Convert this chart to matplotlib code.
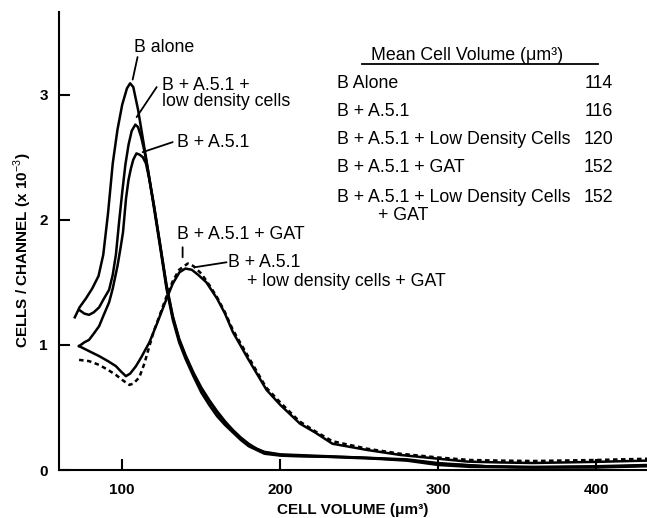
import matplotlib
matplotlib.use("Agg")
import matplotlib.pyplot as plt
from matplotlib.lines import Line2D

plt.rcParams['font.family'] = ['Liberation Sans', 'DejaVu Sans']
plt.rcParams['mathtext.fontset'] = 'custom'
plt.rcParams['mathtext.rm'] = 'Liberation Sans'
plt.rcParams['mathtext.bf'] = 'Liberation Sans:bold'

# cell volume (um^3) vs cells / channel (x 10^-3)
b_alone_x = [70, 73, 77, 81, 85, 88, 91, 94, 97, 100, 103, 105, 107, 110, 115, 120, 124,
             128, 132, 136, 140, 145, 150, 155, 160, 165, 170, 175, 180, 185, 190, 200,
             210, 230, 260, 280, 300, 320, 350, 400, 432]
b_alone_y = [1.22, 1.30, 1.37, 1.45, 1.55, 1.72, 2.05, 2.45, 2.72, 2.92, 3.05, 3.09, 3.06,
             2.88, 2.50, 2.10, 1.78, 1.45, 1.20, 1.02, 0.89, 0.75, 0.62, 0.52, 0.43, 0.36,
             0.30, 0.24, 0.19, 0.16, 0.13, 0.115, 0.11, 0.105, 0.09, 0.075, 0.04, 0.025,
             0.02, 0.02, 0.03]

ld_x = [72.7, 76, 79, 82, 85.4, 88, 91.7, 94, 96, 98, 100, 102, 104, 106, 108.3, 110, 112,
        114, 116, 120, 124, 128, 132, 136, 140, 145, 150, 155, 160, 165, 170, 175, 180, 185,
        190, 200, 220, 250, 280, 300, 330, 360, 400, 432]
ld_y = [1.28, 1.25, 1.24, 1.26, 1.30, 1.36, 1.44, 1.56, 1.72, 1.98, 2.22, 2.44, 2.60, 2.71,
        2.76, 2.74, 2.66, 2.55, 2.42, 2.12, 1.80, 1.47, 1.22, 1.04, 0.91, 0.77, 0.65, 0.55,
        0.46, 0.38, 0.31, 0.25, 0.20, 0.17, 0.14, 0.12, 0.11, 0.10, 0.08, 0.05, 0.03, 0.02,
        0.025, 0.035]

a51_x = [72.7, 76, 79, 82, 85.4, 88, 91.7, 94, 97, 99, 100.5, 102.4, 104, 105.5, 107, 109,
         111, 113, 115, 117, 120, 124, 128, 132, 136, 140, 145, 150, 155, 160, 165, 170, 175,
         180, 185, 190, 200, 220, 250, 280, 300, 330, 360, 400, 432]
a51_y = [0.99, 1.02, 1.04, 1.09, 1.15, 1.23, 1.34, 1.45, 1.63, 1.78, 1.90, 2.17, 2.32, 2.41,
         2.48, 2.53, 2.52, 2.50, 2.45, 2.33, 2.12, 1.80, 1.48, 1.23, 1.05, 0.92, 0.78, 0.66,
         0.56, 0.47, 0.39, 0.32, 0.26, 0.21, 0.17, 0.145, 0.125, 0.115, 0.10, 0.085, 0.055,
         0.03, 0.025, 0.03, 0.04]

gat_x = [72.7, 79, 85.4, 91, 96, 99, 102.3, 105, 108.7, 112, 117.2, 122, 127.8, 132, 136.2,
         140, 144, 148, 153.2, 160, 165, 170.1, 180, 191.3, 200, 212.5, 222, 233, 255, 276,
         300, 318.5, 340, 360, 400, 432]
gat_y = [0.99, 0.95, 0.91, 0.87, 0.83, 0.79, 0.75, 0.77, 0.83, 0.90, 1.02, 1.17, 1.36, 1.49,
         1.58, 1.61, 1.60, 1.56, 1.50, 1.37, 1.25, 1.10, 0.88, 0.64, 0.52, 0.37, 0.30, 0.21,
         0.16, 0.12, 0.09, 0.067, 0.06, 0.056, 0.065, 0.075]

gat_ld_x = [72.7, 79, 85.4, 91, 96, 100, 104.5, 107, 110.8, 114, 117.2, 120, 123.5, 127.8,
            132, 136, 141.5, 145, 150, 155, 160, 165, 170, 180, 191, 200, 212, 222, 233, 255,
            276, 300, 320, 340, 360, 400, 432]
gat_ld_y = [0.88, 0.87, 0.84, 0.80, 0.76, 0.72, 0.68, 0.69, 0.74, 0.85, 0.99, 1.11, 1.23,
            1.38, 1.51, 1.60, 1.65, 1.63, 1.57, 1.48, 1.38, 1.26, 1.12, 0.90, 0.66, 0.54, 0.39,
            0.31, 0.23, 0.17, 0.13, 0.10, 0.08, 0.075, 0.072, 0.08, 0.09]

x_ticks = [100, 200, 300, 400]
y_ticks = [0, 1, 2, 3]

table_title = "Mean Cell Volume (\u03bcm\u00b3)"
table_labels = ["B Alone", "B + A.5.1", "B + A.5.1 + Low Density Cells", "B + A.5.1 + GAT",
                "B + A.5.1 + Low Density Cells"]
table_values = ["114", "116", "120", "152", "152"]

W, H = 647, 518
fig = plt.figure(figsize=(W / 100, H / 100), dpi=100)
ax = fig.add_axes([59 / W, 1 - 470 / H, 588 / W, 458 / H])

lw = 1.8
for xs, ys in [(b_alone_x, b_alone_y), (ld_x, ld_y), (a51_x, a51_y), (gat_x, gat_y)]:
    ax.plot(xs, ys, color='black', lw=lw, solid_joinstyle='round')
ax.plot(gat_ld_x, gat_ld_y, color='black', lw=lw, ls=(0, (1.8, 1.4)))

ax.set_xlim(60, 432)
ax.set_ylim(0, 3.66)
ax.set_xticks(x_ticks)
ax.set_yticks(y_ticks)
for lab in ax.get_xticklabels() + ax.get_yticklabels():
    lab.set_fontweight('bold')
ax.tick_params(direction='in', length=8, width=1.5, labelsize=11, pad=8)
ax.tick_params(axis='x', pad=9)
for s in ['top', 'right']:
    ax.spines[s].set_visible(False)
for s in ['left', 'bottom']:
    ax.spines[s].set_linewidth(1.5)

ax.set_xlabel("CELL VOLUME (\u03bcm\u00b3)", fontsize=11, fontweight='bold', labelpad=5)
fig.text(23 / W, 1 - 250 / H, "CELLS / CHANNEL (x 10$^{-3}$)", rotation=90,
         ha='center', va='center', fontsize=11, fontweight='bold')

# curve labels with leader lines
fs = 12.8
def leader(x0, y0, x1, y1):
    ax.annotate('', xy=(x1, y1), xytext=(x0, y0),
                arrowprops=dict(arrowstyle='-', lw=1.3, color='black',
                                shrinkA=0, shrinkB=0))

ax.text(126.8, 3.38, "B alone", ha='center', va='center', fontsize=fs)
leader(109.7, 3.30, 106.6, 3.12)
ax.text(124.9, 3.01, "B + A.5.1 +\nlow density cells", ha='left', va='center',
        fontsize=fs, linespacing=0.95)
leader(121.8, 3.06, 109.1, 2.82)
ax.text(134.4, 2.62, "B + A.5.1", ha='left', va='center', fontsize=fs)
leader(131.9, 2.62, 112.9, 2.54)
ax.text(134.4, 1.88, "B + A.5.1 + GAT", ha='left', va='center', fontsize=fs)
leader(138.2, 1.78, 138.2, 1.70)
ax.text(166.7, 1.656, "B + A.5.1", ha='left', va='center', fontsize=fs)
ax.text(178.7, 1.504, "+ low density cells + GAT", ha='left', va='center', fontsize=fs)
leader(166.0, 1.66, 145.8, 1.62)

# inset table
fig.text(467 / W, 1 - 56 / H, table_title, ha='center', va='center', fontsize=fs)
fig.add_artist(Line2D([362 / W, 598 / W], [1 - 64 / H, 1 - 64 / H], color='black', lw=1.3))
row_y = [83, 112, 140, 168, 197]
for lab, val, yy in zip(table_labels, table_values, row_y):
    fig.text(337 / W, 1 - yy / H, lab, ha='left', va='center', fontsize=fs)
    fig.text(613 / W, 1 - yy / H, val, ha='right', va='center', fontsize=fs)
fig.text(378 / W, 1 - 215 / H, "+ GAT", ha='left', va='center', fontsize=fs)

fig.savefig("out.png", dpi=100)
